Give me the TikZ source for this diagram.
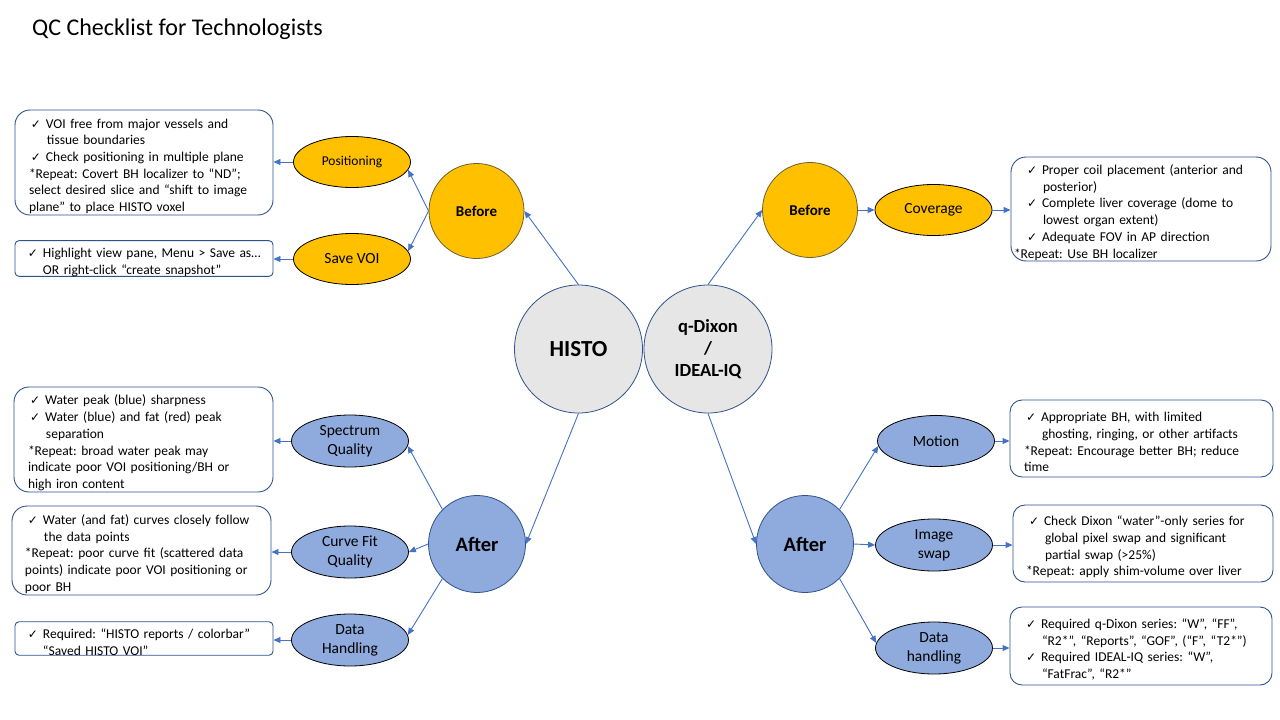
\documentclass[tikz,border=0pt]{standalone}
\usepackage{fontspec}
\setmainfont{Carlito}
\newfontfamily\ckfont{DejaVu Sans}
\usetikzlibrary{shapes.geometric,arrows.meta}
\definecolor{gold}{HTML}{FFC000}
\definecolor{lblue}{HTML}{8FAADC}
\definecolor{lgrey}{HTML}{E7E6E6}
\definecolor{dblue}{HTML}{2F528F}
\definecolor{lineblue}{HTML}{4472C4}
\definecolor{olivedark}{HTML}{6E5F32}
\hyphenpenalty=10000 \exhyphenpenalty=10000
\frenchspacing
\newcommand\ckmark{\makebox[15pt][l]{\ckfont\fontsize{12}{12}\selectfont ✓}}
\newcommand\itm{\par\hangindent=32pt\hangafter=1\hspace*{16pt}\ckmark}
\newcommand\rpt[1]{\par\leftskip=#1\relax}
\tikzset{
  box/.style={draw=dblue, line width=0.9pt, rounded corners=#1, fill=white, inner sep=0pt, align=left, font=\fontsize{13.5}{16.7}\selectfont\frenchspacing},
  ell/.style={ellipse, draw=black, line width=0.8pt, minimum width=117pt, minimum height=51pt, inner sep=0pt, align=center, font=\fontsize{15.5}{19}\selectfont},
  ellg/.style={ell, fill=gold},
  ellb/.style={ell, fill=lblue},
  hub/.style={circle, draw=dblue, line width=0.8pt, fill=lgrey, minimum size=128pt, inner sep=0pt, align=center},
  bef/.style={circle, draw=olivedark, line width=0.8pt, fill=gold, minimum size=95pt, inner sep=0pt, font=\bfseries\fontsize{15}{18}\selectfont},
  aft/.style={circle, draw=dblue, line width=0.8pt, fill=lblue, minimum size=97pt, inner sep=0pt, font=\bfseries\fontsize{20.5}{24}\selectfont},
  conn/.style={draw=lineblue, line width=0.9pt, -{Triangle[length=7pt,width=6pt]}}
}
\begin{document}
\begin{tikzpicture}[x=1pt,y=-1pt]
\useasboundingbox[fill=white] (0,0) rectangle (1280,720);
\node[anchor=base west, inner sep=0pt, font=\fontsize{24}{28}\selectfont] (title) at (32,35) {QC Checklist for Technologists};

% hubs
\node[hub, font=\bfseries\fontsize{23}{27}\selectfont] (histo) at (578.5,349) {HISTO};
\node[hub, font=\bfseries\fontsize{18.5}{22}\selectfont] (qdx) at (708,349) {q-Dixon\\/\\IDEAL-IQ};

\node[bef] (befL) at (476.5,211) {Before};
\node[bef] (befR) at (810,210) {Before};
\node[aft] (aftL) at (477,544) {After};
\node[aft] (aftR) at (805,544) {After};

% ellipses
\node[ellg, font=\fontsize{13.5}{16}\selectfont] (pos) at (352,162) {Positioning};
\node[ellg] (save) at (352,259) {Save VOI};
\node[ellg] (cov) at (933.5,210) {Coverage};
\node[ellb, minimum height=52pt] (spec) at (350,441) {Spectrum\\Quality};
\node[ellb, minimum height=52pt] (curve) at (350,552) {Curve Fit\\Quality};
\node[ellb, minimum height=52pt] (dataL) at (350,640) {Data\\Handling};
\node[ellb] (motion) at (936,441) {Motion};
\node[ellb, minimum height=52pt] (swap) at (934,545) {Image\\swap};
\node[ellb, minimum height=52pt] (dataR) at (934,648) {Data\\handling};

% boxes
\node[box=15pt, text width=258pt, minimum width=258pt, minimum height=105pt] (b1) at (144,162.5) {%
\itm VOI free from major vessels and\newline tissue boundaries
\itm Check positioning in multiple plane
\rpt{14pt}*Repeat: Covert BH localizer to “ND”;\newline select desired slice and “shift to image\newline plane” to place HISTO voxel\par};
\node[box=4pt, text width=258pt, minimum width=258pt, minimum height=33pt] (b2) at (144,258.5) {%
\par\hangindent=28pt\hangafter=1\hspace*{13pt}\makebox[15pt][l]{\ckfont\fontsize{12}{12}\selectfont ✓}Highlight view pane, Menu > Save as…\newline OR right-click “create snapshot”\par};
\node[box=15pt, text width=260pt, minimum width=260pt, minimum height=104pt] (bcov) at (1141,209) {%
\itm Proper coil placement (anterior and\newline posterior)
\itm Complete liver coverage (dome to\newline lowest organ extent)
\itm Adequate FOV in AP direction
\rpt{3pt}*Repeat: Use BH localizer\par};
\node[box=15pt, text width=259pt, minimum width=259pt, minimum height=105pt] (bspec) at (143.5,439.5) {%
\itm Water peak (blue) sharpness
\itm Water (blue) and fat (red) peak\newline separation
\rpt{14pt}*Repeat: broad water peak may\newline indicate poor VOI positioning/BH or\newline high iron content\par};
\node[box=15pt, text width=259pt, minimum width=259pt, minimum height=89pt] (bcurve) at (141.5,550.5) {%
\itm Water (and fat) curves closely follow\newline the data points
\rpt{13pt}*Repeat: poor curve fit (scattered data\newline points) indicate poor VOI positioning or\newline poor BH\par};
\node[box=4pt, text width=258pt, minimum width=258pt, minimum height=33pt] (bdataL) at (144,638.5) {%
\par\hangindent=28pt\hangafter=1\hspace*{13pt}\makebox[15pt][l]{\ckfont\fontsize{12}{12}\selectfont ✓}Required: “HISTO reports / colorbar”\newline “Saved HISTO VOI”\par};
\node[box=12pt, text width=263pt, minimum width=263pt, minimum height=77pt] (bmotion) at (1141.5,438.5) {%
\itm Appropriate BH, with limited\newline ghosting, ringing, or other artifacts
\rpt{14pt}*Repeat: Encourage better BH; reduce\newline time\par};
\node[box=12pt, text width=260pt, minimum width=260pt, minimum height=77pt] (bswap) at (1143,543.5) {%
\itm Check Dixon “water”-only series for\newline global pixel swap and significant\newline partial swap (>25\%)
\rpt{13pt}*Repeat: apply shim-volume over liver\par};
\node[box=12pt, text width=262pt, minimum width=262pt, minimum height=78pt] (bdataR) at (1141,646) {%
\itm Required q-Dixon series: “W”, “FF”,\newline “R2*”, “Reports”, “GOF”, (“F”, “T2*”)
\itm Required IDEAL-IQ series: “W”,\newline “FatFrac”, “R2*”\par};

% connectors
\draw[conn] (histo.north) -- (befL.east);
\draw[conn] (qdx.north) -- (befR.west);
\draw[conn] (histo.south) -- (aftL.east);
\draw[conn] (qdx.south) -- (aftR.west);

\draw[conn] (befL.west) -- (pos.-8);
\draw[conn] (befL.west) -- (save.8);
\draw[conn] (pos.west) -- (pos.west -| b1.east);
\draw[conn] (save.west) -- (save.west -| b2.east);

\draw[conn] (befR.east) -- (cov.west);
\draw[conn] (cov.east) -- (cov.east -| bcov.west);

\draw[conn] (aftL.135) -- (spec.-5);
\draw[conn] (aftL.west) -- (curve.east);
\draw[conn] (aftL.-135) -- (dataL.5);
\draw[conn] (spec.west) -- (spec.west -| bspec.east);
\draw[conn] (curve.west) -- (curve.west -| bcurve.east);
\draw[conn] (dataL.west) -- (dataL.west -| bdataL.east);

\draw[conn] (aftR.45) -- (motion.185);
\draw[conn] (aftR.east) -- (swap.west);
\draw[conn] (aftR.-45) -- (dataR.175);
\draw[conn] (motion.east) -- (motion.east -| bmotion.west);
\draw[conn] (swap.east) -- (swap.east -| bswap.west);
\draw[conn] (dataR.east) -- (dataR.east -| bdataR.west);
\end{tikzpicture}
\end{document}
